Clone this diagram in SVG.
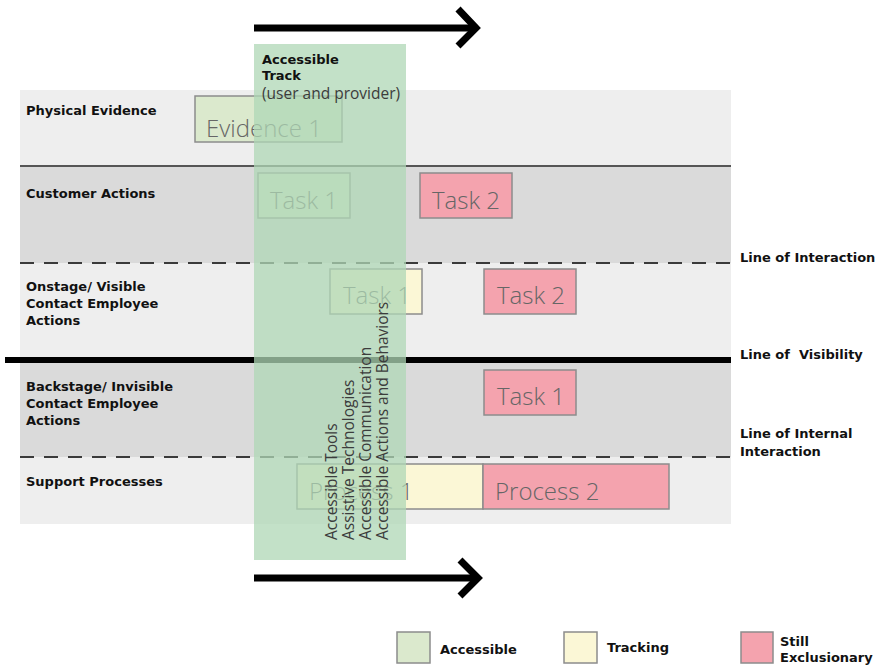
<svg xmlns="http://www.w3.org/2000/svg" width="880" height="668" viewBox="0 0 880 668">
  <style>
    .lane-light { fill: #eeeeee; }
    .lane-dark { fill: #dadada; }
    .head { font-family: "DejaVu Sans", "Liberation Sans", sans-serif; font-weight: bold; font-size: 13px; fill: #111111; }
    .box { stroke: #8c8c8c; stroke-width: 1.5; }
    .acc { fill: #dbe9cd; }
    .trk { fill: #fbf7d6; }
    .exc { fill: #f4a3ae; }
    .lbl { font-family: "Open Sans", "Liberation Sans", sans-serif; font-weight: 300; font-size: 24px; fill: #666666; }
    .dash { stroke: #3a3a3a; stroke-width: 2; stroke-dasharray: 14 10; fill: none; }
    .track-txt { font-family: "Open Sans", "Liberation Sans", sans-serif; font-size: 15.5px; fill: #3c3c3c; }
    .arrow { stroke: #000; fill: none; stroke-width: 7; }
  </style>

  <!-- swimlanes -->
  <g id="lanes">
    <rect class="lane-light" x="20" y="90" width="711" height="76"/>
    <rect class="lane-dark" x="20" y="166" width="711" height="97"/>
    <rect class="lane-light" x="20" y="263" width="711" height="97"/>
    <rect class="lane-dark" x="20" y="360" width="711" height="97"/>
    <rect class="lane-light" x="20" y="457" width="711" height="67"/>
  </g>

  <!-- lane separators -->
  <g id="connectors">
    <line x1="20" y1="166" x2="731" y2="166" stroke="#555" stroke-width="2"/>
    <line class="dash" x1="20" y1="263" x2="731" y2="263"/>
    <line x1="5" y1="360" x2="731" y2="360" stroke="#000" stroke-width="6"/>
    <line class="dash" x1="20" y1="457" x2="731" y2="457"/>
  </g>

  <!-- lane titles -->
  <g id="lane-titles" class="head">
    <text x="26" y="115">Physical Evidence</text>
    <text x="26" y="198">Customer Actions</text>
    <text x="26" y="291">Onstage/ Visible</text>
    <text x="26" y="308">Contact Employee</text>
    <text x="26" y="325">Actions</text>
    <text x="26" y="391">Backstage/ Invisible</text>
    <text x="26" y="408">Contact Employee</text>
    <text x="26" y="425">Actions</text>
    <text x="26" y="486">Support Processes</text>
  </g>

  <!-- line titles -->
  <g id="line-titles" class="head">
    <text x="740" y="262">Line of Interaction</text>
    <text x="740" y="359" xml:space="preserve">Line of  Visibility</text>
    <text x="740" y="438">Line of Internal</text>
    <text x="740" y="456">Interaction</text>
  </g>

  <!-- steps -->
  <g id="evidence-1">
    <rect class="box acc" x="195" y="96" width="147" height="46"/>
    <text class="lbl" x="206" y="137" font-size="26">Evidence 1</text>
  </g>
  <g id="customer-task-1">
    <rect class="box acc" x="258" y="173" width="92" height="45"/>
    <text class="lbl" x="270" y="209">Task 1</text>
  </g>
  <g id="customer-task-2">
    <rect class="box exc" x="420" y="173" width="92" height="45"/>
    <text class="lbl" x="432" y="209">Task 2</text>
  </g>
  <g id="onstage-task-1">
    <rect class="box trk" x="330" y="269" width="92" height="45"/>
    <text class="lbl" x="343" y="304">Task 1</text>
  </g>
  <g id="onstage-task-2">
    <rect class="box exc" x="484" y="269" width="92" height="45"/>
    <text class="lbl" x="497" y="304">Task 2</text>
  </g>
  <g id="backstage-task-1">
    <rect class="box exc" x="484" y="370" width="92" height="45"/>
    <text class="lbl" x="497" y="405">Task 1</text>
  </g>
  <g id="process-1">
    <rect class="box trk" x="297" y="464" width="186" height="45"/>
    <text class="lbl" x="309" y="500">Process 1</text>
  </g>
  <g id="process-2">
    <rect class="box exc" x="483" y="464" width="186" height="45"/>
    <text class="lbl" x="495" y="500">Process 2</text>
  </g>

  <!-- translucent accessible track laid over the lanes -->
  <g id="accessible-track">
    <rect x="254" y="44" width="152" height="516" fill="#afd7b5" opacity="0.75"/>
    <text class="head" x="262" y="64" font-size="13.5">Accessible</text>
    <text class="head" x="262" y="80" font-size="13.5">Track</text>
    <text class="track-txt" x="262" y="99" font-size="14">(user and provider)</text>
    <g transform="translate(0,540) rotate(-90)">
      <text class="track-txt" x="0" y="337">Accessible Tools</text>
      <text class="track-txt" x="0" y="354">Assistive Technologies</text>
      <text class="track-txt" x="0" y="371">Accessible Communication</text>
      <text class="track-txt" x="0" y="388">Accessible Actions and Behaviors</text>
    </g>
  </g>

  <!-- time arrows -->
  <g id="arrow-top">
    <line class="arrow" x1="254" y1="28" x2="474" y2="28"/>
    <polyline class="arrow" points="458,9 476,28 458,46" stroke-width="6"/>
  </g>
  <g id="arrow-bottom">
    <line class="arrow" x1="254" y1="578" x2="476" y2="578"/>
    <polyline class="arrow" points="460,560 478,578 460,596" stroke-width="6"/>
  </g>

  <!-- legend -->
  <g id="legend-accessible">
    <rect class="box acc" x="397" y="632" width="33" height="31"/>
    <text class="head" x="440" y="654">Accessible</text>
  </g>
  <g id="legend-tracking">
    <rect class="box trk" x="564" y="632" width="33" height="31"/>
    <text class="head" x="607" y="652">Tracking</text>
  </g>
  <g id="legend-exclusionary">
    <rect class="box exc" x="741" y="632" width="32" height="31"/>
    <text class="head" x="780" y="646">Still</text>
    <text class="head" x="780" y="662">Exclusionary</text>
  </g>
</svg>
